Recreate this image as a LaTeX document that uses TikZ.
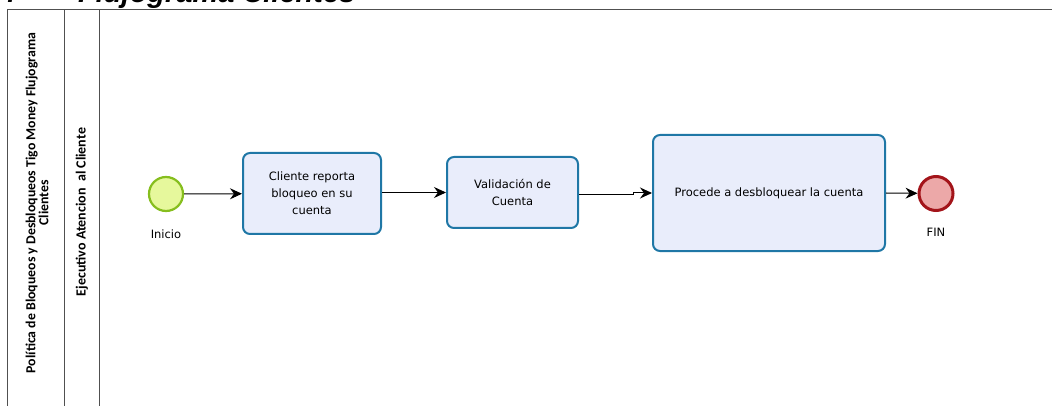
\documentclass[tikz,border=0pt]{standalone}
\usepackage{fontspec}
\setmainfont{DejaVu Sans}
\newfontfamily\lanefont{Carlito}
\newfontfamily\titlefont{Liberation Sans}
\usetikzlibrary{arrows.meta}
\definecolor{taskfill}{HTML}{E9EDFB}
\definecolor{taskdraw}{HTML}{1F77A6}
\definecolor{startfill}{HTML}{E6F89C}
\definecolor{startdraw}{HTML}{86BE1E}
\definecolor{endfill}{HTML}{ECA8A8}
\definecolor{enddraw}{HTML}{A3141A}
\definecolor{laneline}{HTML}{505050}
\tikzset{
  task/.style={draw=taskdraw, fill=taskfill, line width=2pt, rounded corners=7pt,
    align=center, inner sep=0pt, font=\fontsize{11.5}{17}\selectfont},
  startev/.style={circle, draw=startdraw, fill=startfill, line width=2.2pt, minimum size=34pt, inner sep=0pt},
  endev/.style={circle, draw=enddraw, fill=endfill, line width=3pt, minimum size=34pt, inner sep=0pt},
  evlabel/.style={font=\fontsize{11.5}{14}\selectfont, inner sep=0pt},
  flow/.style={line width=1pt, -{Stealth[length=12pt,width=11pt,inset=4pt]}},
  lanetext/.style={font=\lanefont\bfseries\fontsize{13.8}{13}\selectfont, rotate=90, align=center, inner sep=0pt},
  laneborder/.style={draw=laneline, line width=1pt}
}
\begin{document}
\begin{tikzpicture}[x=1pt,y=-1pt]
\useasboundingbox (0,0) rectangle (1052,406);
\clip (0,0) rectangle (1052,406);
% title (cut off at top)
\node[anchor=base west, inner sep=0pt, font=\titlefont\bfseries\itshape\fontsize{29}{30}\selectfont] (num) at (0,3) {4};
\node[anchor=base west, inner sep=0pt, font=\titlefont\bfseries\itshape\fontsize{29}{30}\selectfont] (title) at (78,3) {Flujograma Clientes};
% pool and lane borders
\draw[laneborder] (7,420) -- (7,10) -- (1060,10);
\draw[laneborder] (64,10) -- (64,420);
\draw[laneborder] (99,10) -- (99,420);
\node[lanetext] (pool) at (37,203) {Política de Bloqueos y Desbloqueos Tigo Money Flujograma\\Clientes};
\node[lanetext, font=\lanefont\bfseries\fontsize{14}{14}\selectfont] (lane) at (82,212) {Ejecutivo Atencion\ \ al Cliente};
% events and tasks
\node[startev] (start) at (166,194) {};
\node[evlabel] (startlbl) at (166,234) {Inicio};
\node[task, minimum width=138pt, minimum height=81pt] (t1) at (312,193.5) {Cliente reporta\\bloqueo en su\\cuenta};
\node[task, minimum width=131pt, minimum height=71pt] (t2) at (512.5,192.5) {Validación de\\Cuenta};
\node[task, minimum width=232pt, minimum height=116pt] (t3) at (769,193) {Procede a desbloquear la cuenta};
\node[endev] (end) at (936,193.5) {};
\node[evlabel] (endlbl) at (936,232) {FIN};
\coordinate (bend) at (633,195);
% flows
\draw[flow] (start) -- (t1);
\draw[flow] (t1.east |- t2.west) -- (t2.west);
\draw[flow] (t2.east |- bend) -- (bend) -- (bend |- t3.west) -- (t3.west);
\draw[flow] (t3.east) -- (end);
\end{tikzpicture}
\end{document}
